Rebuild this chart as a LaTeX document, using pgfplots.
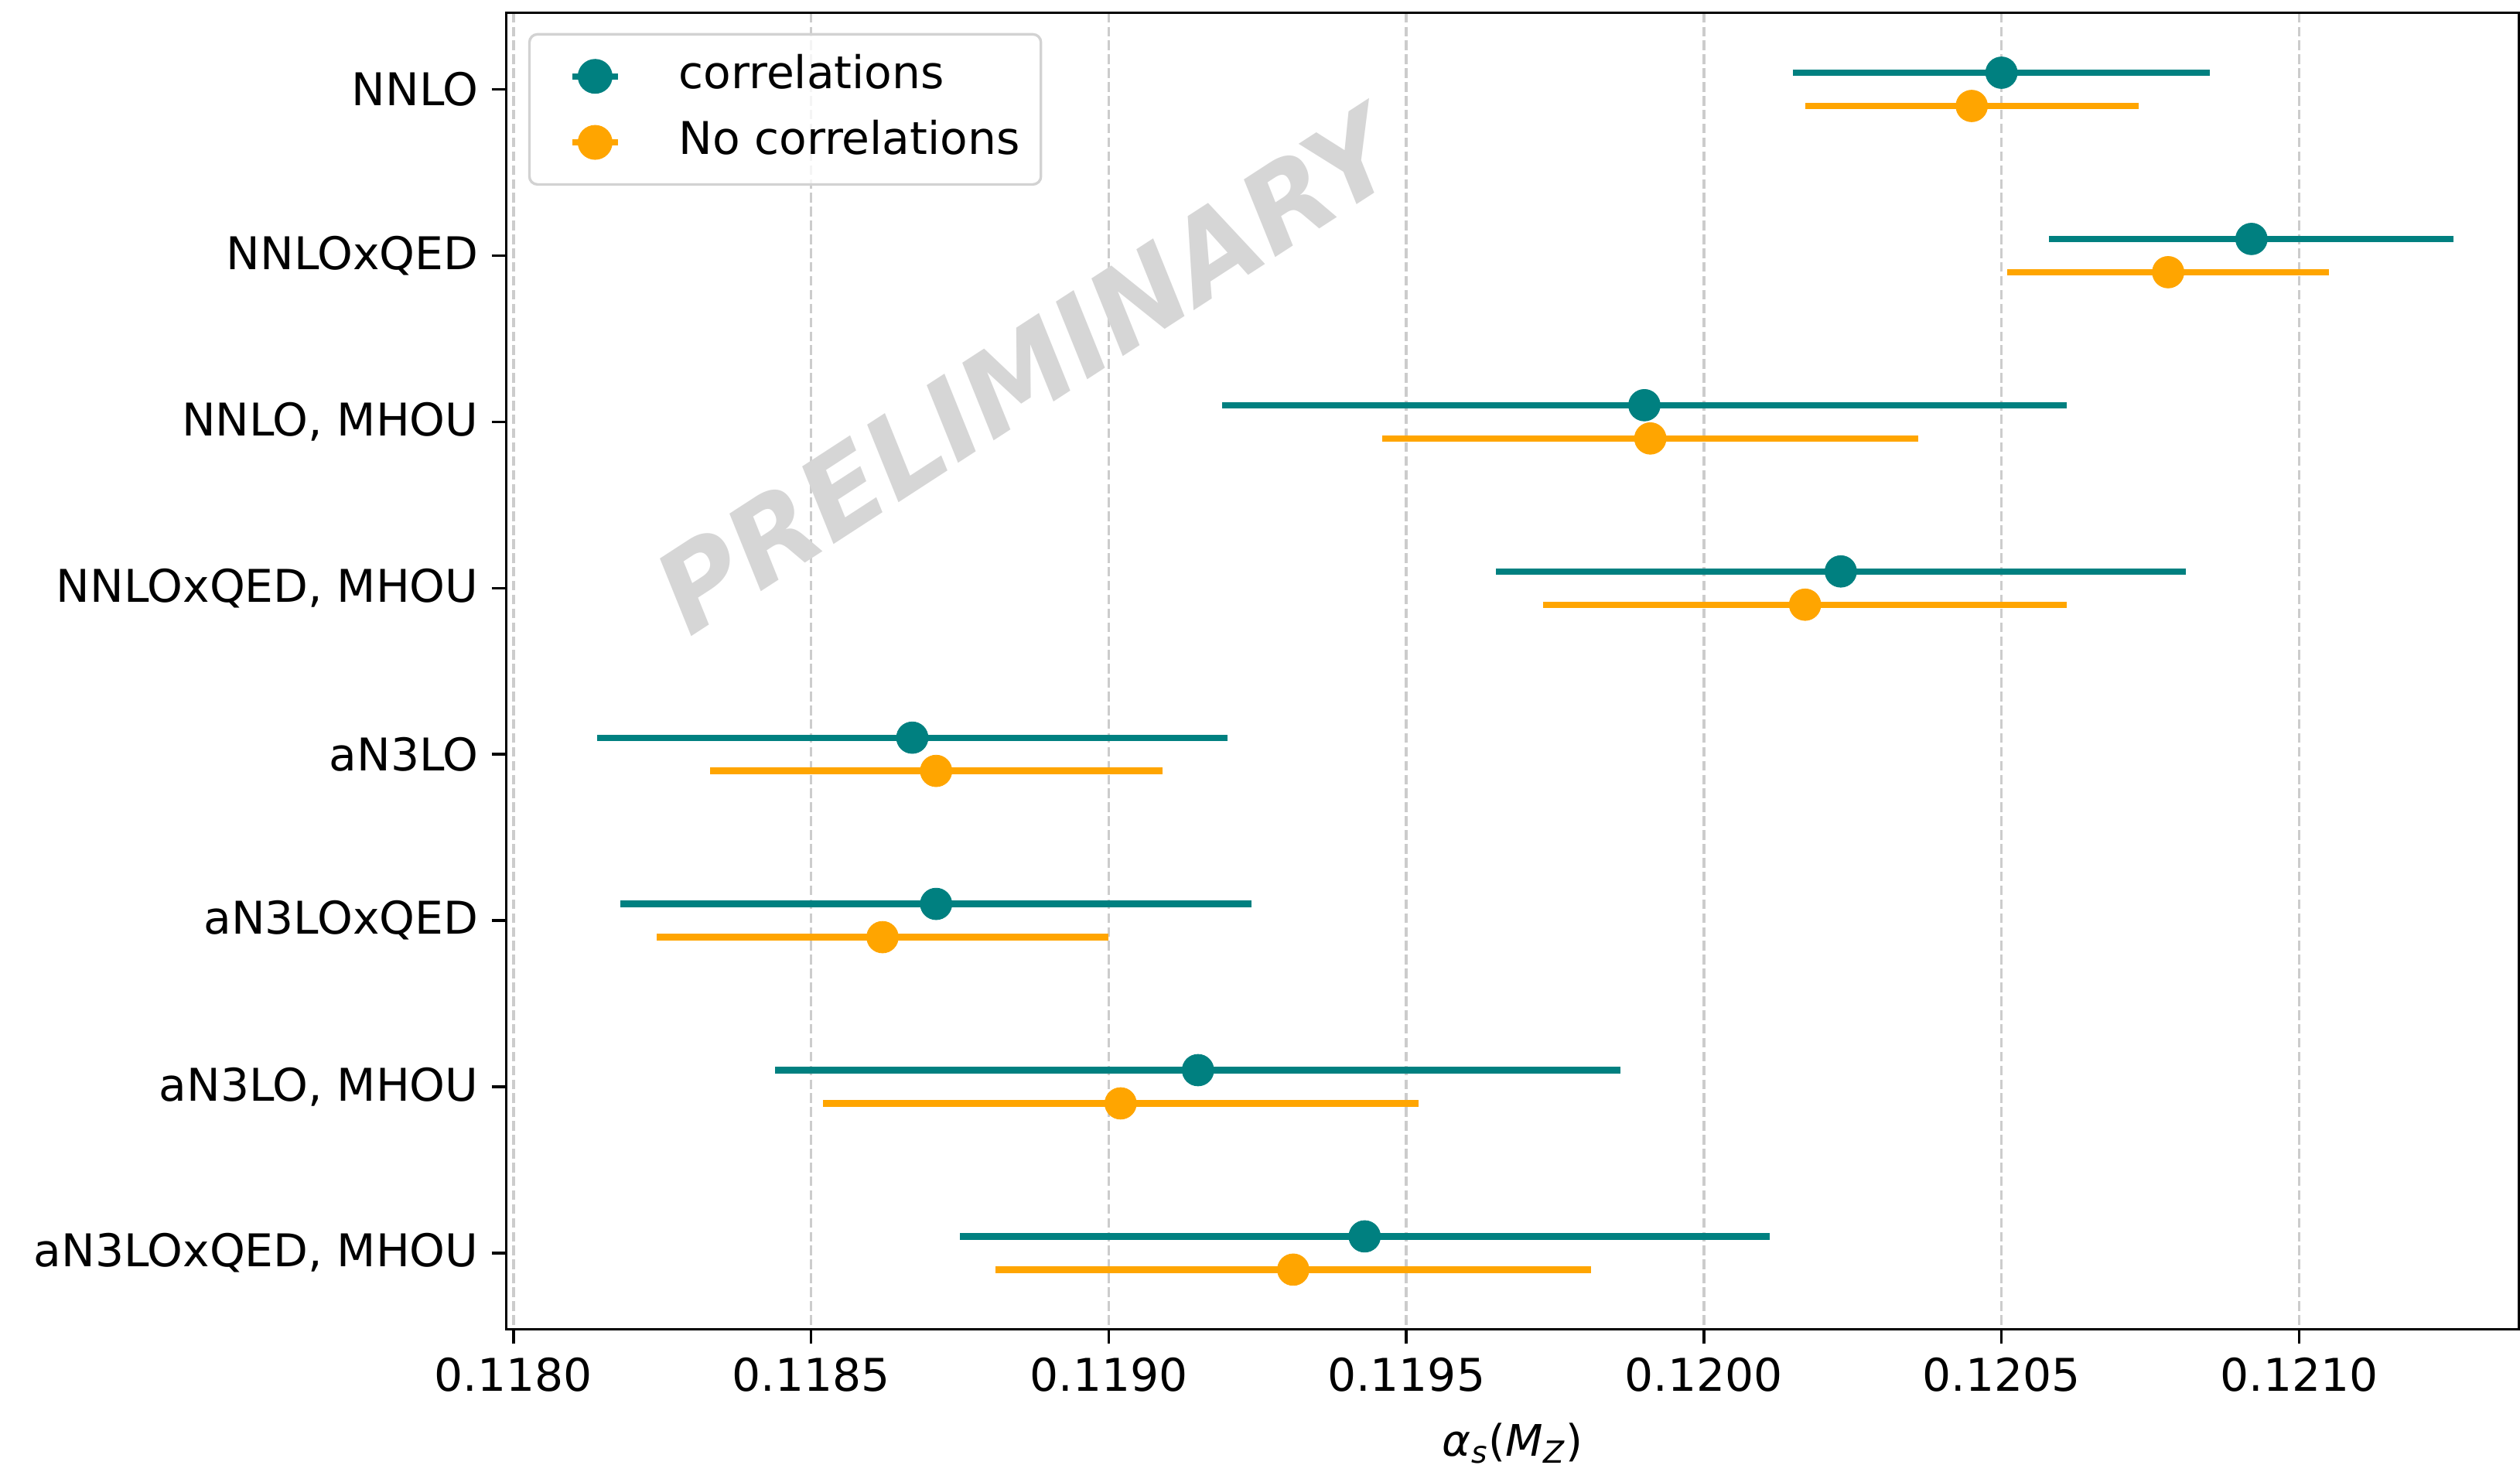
\documentclass[border=0pt,12pt]{standalone}
\usepackage{fontspec}
\setmainfont{DejaVu Sans}
\usepackage{pgfplots}
\pgfplotsset{compat=1.18}
\usepackage{pgfplotstable}

\definecolor{corr}{RGB}{0,128,128}
\definecolor{nocorr}{RGB}{255,165,0}

% alpha_s fits with correlated uncertainties (row index - 0.1)
\pgfplotstableread{
y    x       err
-0.1 0.12050 0.00035
0.9  0.12092 0.00034
1.9  0.11990 0.00071
2.9  0.12023 0.00058
3.9  0.11867 0.00053
4.9  0.11871 0.00053
5.9  0.11915 0.00071
6.9  0.11943 0.00068
}\corrtable

% alpha_s fits without correlations (row index + 0.1)
\pgfplotstableread{
y    x       err
0.1  0.12045 0.00028
1.1  0.12078 0.00027
2.1  0.11991 0.00045
3.1  0.12017 0.00044
4.1  0.11871 0.00038
5.1  0.11862 0.00038
6.1  0.11902 0.00050
7.1  0.11931 0.00050
}\nocorrtable

\begin{document}
\begin{tikzpicture}
\begin{axis}[
  scale only axis,
  width=624.7pt, height=408.7pt,
  xmin=0.117988, xmax=0.121369,
  ymin=-0.46, ymax=7.46,
  y dir=reverse,
  xtick={0.1180,0.1185,0.1190,0.1195,0.1200,0.1205,0.1210},
  scaled x ticks=false,
  tick label style={font=\fontsize{14}{17}\selectfont},
  x tick label style={/pgf/number format/.cd, fixed, fixed zerofill, precision=4, assume math mode=true, /tikz/.cd},
  ytick={0,1,2,3,4,5,6,7},
  yticklabels={NNLO, NNLOxQED, {NNLO, MHOU}, {NNLOxQED, MHOU}, aN3LO, aN3LOxQED, {aN3LO, MHOU}, {aN3LOxQED, MHOU}},
  xtick pos=left, ytick pos=left,
  tick align=outside,
  major tick length=4.5pt,
  tick style={line width=0.8pt, black},
  axis line style={line width=0.8pt},
  xmajorgrids,
  major grid style={dash pattern=on 3pt off 1.3pt, line width=0.8pt, gray!40},
  xlabel={{\itshape α}\textsubscript{\itshape s}(\textit{M}\textsubscript{\itshape Z})},
  xlabel style={font=\fontsize{13.5}{16}\selectfont, inner ysep=0pt, text depth=0pt, yshift=-5.5pt},
  legend image code/.code={
    \path (-10.5pt,0pt);
    \draw[line width=2pt, draw opacity=1] (0pt,0pt) -- (14pt,0pt);
    \fill[fill opacity=1] (7pt,0pt) circle (5pt);
  },
  legend style={
    at={(axis description cs:0.0108,0.9847)}, anchor=north west,
    draw=gray!35, line width=0.8pt, rounded corners=2.5pt,
    fill=white, fill opacity=0.8, text opacity=1,
    inner xsep=2.5pt, inner ysep=2.8pt,
    column sep=14pt,
    font=\fontsize{14}{17}\selectfont,
    nodes={inner xsep=4pt, inner ysep=3.5pt, text height=10.5pt, text depth=3pt},
    cells={anchor=west},
  },
]
  \node[rotate=33, text=gray!32, font=\fontsize{35}{42}\selectfont\bfseries\itshape]
    at (axis description cs:0.258,0.728) {PRELIMINARY};

  \addplot[only marks, mark=*, mark size=4.9pt, color=corr,
    mark options={line width=0.2pt, fill=corr},
    error bars/.cd, x dir=both, x explicit, error mark=none,
    error bar style={line width=2pt, corr}]
    table[x=x, y=y, x error=err] {\corrtable};
  \addlegendentry{correlations}

  \addplot[only marks, mark=*, mark size=4.9pt, color=nocorr,
    mark options={line width=0.2pt, fill=nocorr},
    error bars/.cd, x dir=both, x explicit, error mark=none,
    error bar style={line width=2pt, nocorr}]
    table[x=x, y=y, x error=err] {\nocorrtable};
  \addlegendentry{No correlations}
\end{axis}
\path ([xshift=-157.2pt,yshift=-44.2pt]current axis.south west)
  rectangle ([yshift=4pt]current axis.north east);
\end{tikzpicture}
\end{document}
